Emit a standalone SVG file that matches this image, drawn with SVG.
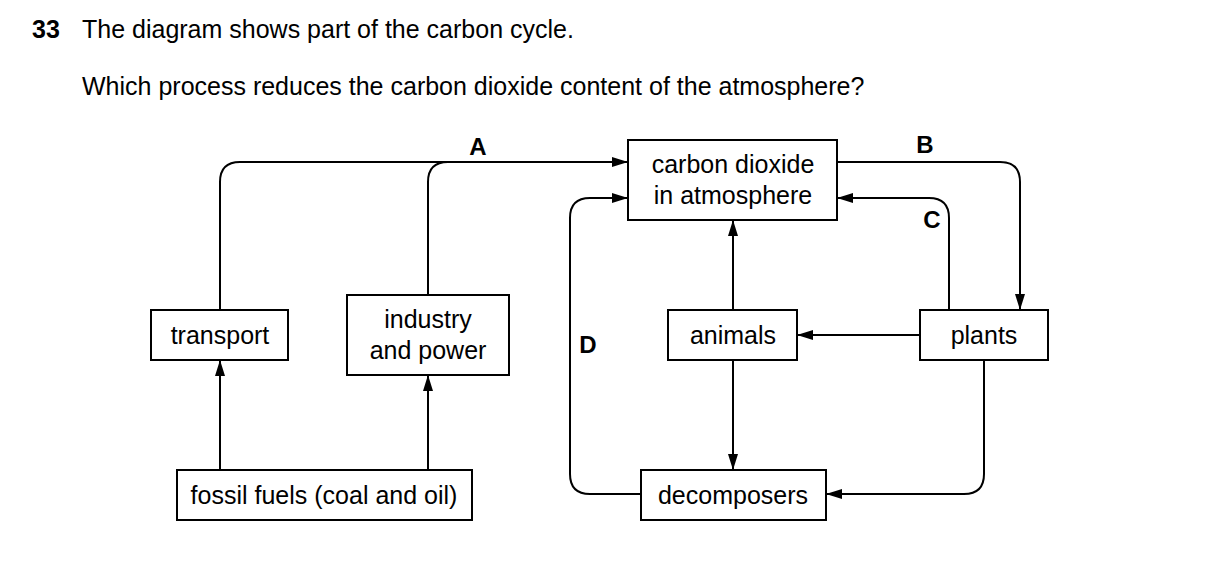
<svg xmlns="http://www.w3.org/2000/svg" width="1209" height="572" viewBox="0 0 1209 572">
<style>
text{font-family:"Liberation Sans",Arial,sans-serif;font-size:25px;fill:#000}
.c{text-anchor:middle}
.b{font-weight:bold}
.l{font-size:24px}
rect{fill:#fff;stroke:#000;stroke-width:2}
path{fill:none;stroke:#000;stroke-width:2}
</style>
<defs><marker id="ar" markerWidth="16" markerHeight="10" refX="16" refY="5" orient="auto" markerUnits="userSpaceOnUse"><path d="M0,0 L16,5 L0,10 Z" style="fill:#000;stroke:none"/></marker></defs>
<rect width="1209" height="572" style="fill:#fff;stroke:none"/>
<text x="32" y="38" class="b">33</text>
<text x="82" y="38">The diagram shows part of the carbon cycle.</text>
<text x="82" y="95">Which process reduces the carbon dioxide content of the atmosphere?</text>
<g id="connectors">
<path d="M220,310 V182 Q220,162 240,162 H628" marker-end="url(#ar)"/>
<path d="M428,295 V182 Q428,162 448,162"/>
<path d="M837,162 H1000 Q1020,162 1020,182 V310" marker-end="url(#ar)"/>
<path d="M949,310 V218 Q949,198 929,198 H837" marker-end="url(#ar)"/>
<path d="M641,494 H590 Q570,494 570,474 V218 Q570,198 590,198 H628" marker-end="url(#ar)"/>
<path d="M733,310 V220" marker-end="url(#ar)"/>
<path d="M920,335 H797" marker-end="url(#ar)"/>
<path d="M733,360 V470" marker-end="url(#ar)"/>
<path d="M984,360 V474 Q984,494 964,494 H826" marker-end="url(#ar)"/>
<path d="M220,470 V360" marker-end="url(#ar)"/>
<path d="M428,470 V375" marker-end="url(#ar)"/>
<text x="478" y="155" class="c b l">A</text>
<text x="925" y="153" class="c b l">B</text>
<text x="932" y="228" class="c b l">C</text>
<text x="588" y="353" class="c b l">D</text>
</g>
<g id="co2"><rect x="628" y="140" width="209" height="80"/><text x="733" y="173" class="c">carbon dioxide</text><text x="733" y="204" class="c">in atmosphere</text></g>
<g id="transport"><rect x="151" y="310" width="137" height="50"/><text x="220" y="344" class="c">transport</text></g>
<g id="industry"><rect x="347" y="295" width="162" height="80"/><text x="428" y="328" class="c">industry</text><text x="428" y="359" class="c">and power</text></g>
<g id="animals"><rect x="668" y="310" width="129" height="50"/><text x="733" y="344" class="c">animals</text></g>
<g id="plants"><rect x="920" y="310" width="128" height="50"/><text x="984" y="344" class="c">plants</text></g>
<g id="fossil"><rect x="177" y="470" width="295" height="50"/><text x="324" y="504" class="c">fossil fuels (coal and oil)</text></g>
<g id="decomposers"><rect x="641" y="470" width="185" height="50"/><text x="733" y="504" class="c">decomposers</text></g>
</svg>
